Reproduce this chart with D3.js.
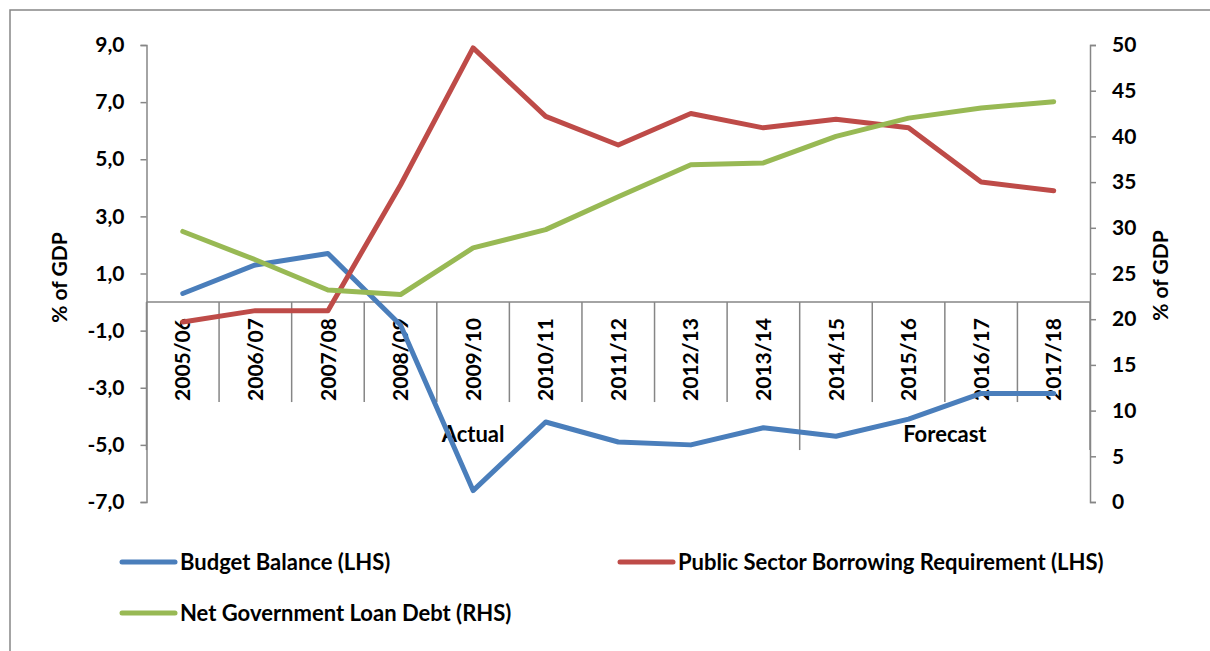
<!DOCTYPE html>
<html>
<head>
<meta charset="utf-8">
<script src="https://cdn.jsdelivr.net/npm/d3@7"></script>
<style>
  body { margin: 0; background: #fff; }
  svg { display: block; }
  text { font-family: Lato, "Open Sans", sans-serif; font-weight: 700; fill: #000; }
</style>
</head>
<body>
<svg id="chart" width="1210" height="651"></svg>
<script>
// Fiscal years on the category axis
const categories = ["2005/06", "2006/07", "2007/08", "2008/09", "2009/10", "2010/11", "2011/12",
                    "2012/13", "2013/14", "2014/15", "2015/16", "2016/17", "2017/18"];

// % of GDP, left-hand scale
const budgetBalance = [0.3, 1.3, 1.7, -0.8, -6.6, -4.2, -4.9, -5.0, -4.4, -4.7, -4.1, -3.2, -3.2];
const borrowingRequirement = [-0.7, -0.3, -0.3, 4.1, 8.9, 6.5, 5.5, 6.6, 6.1, 6.4, 6.1, 4.2, 3.9];

// % of GDP, right-hand scale
const netLoanDebt = [29.6, 26.5, 23.2, 22.7, 27.8, 29.8, 33.4, 36.9, 37.1, 40.0, 42.0, 43.1, 43.8];

const leftTicks = [-7, -5, -3, -1, 1, 3, 5, 7, 9];
const rightTicks = [0, 5, 10, 15, 20, 25, 30, 35, 40, 45, 50];

// Outer grouping of the categories
const periodNames = ["Actual", "Forecast"];
const periodStart = [0, 9];
const periodEnd = [8, 12];

const seriesNames = ["Budget Balance (LHS)", "Public Sector Borrowing Requirement (LHS)", "Net Government Loan Debt (RHS)"];
const seriesColors = ["#4a7ebb", "#be4b48", "#98b954"];

const svg = d3.select("#chart");
const axisColor = "#868686";

const plot = { left: 146.5, right: 1090, top: 45, bottom: 502 };

const x = d3.scaleBand().domain(categories).range([plot.left, plot.right]).padding(0);
const yL = d3.scaleLinear().domain([-7, 9]).range([plot.bottom, plot.top]);
const yR = d3.scaleLinear().domain([0, 50]).range([plot.bottom, plot.top]);

const locale = d3.formatLocale({ decimal: ",", thousands: ".", grouping: [3], currency: ["", ""], minus: "-" });
const fmtLeft = locale.format(".1f");

// Chart frame
svg.append("rect")
  .attr("x", 10).attr("y", 10).attr("width", 1300).attr("height", 800)
  .attr("fill", "none").attr("stroke", axisColor).attr("stroke-width", 1.5);

// Left axis
const leftAxis = d3.axisLeft(yL).tickValues(leftTicks).tickFormat(fmtLeft).tickSize(6).tickPadding(16);
const gL = svg.append("g").attr("transform", `translate(${plot.left},0)`).call(leftAxis);

// Right axis
const rightAxis = d3.axisRight(yR).tickValues(rightTicks).tickFormat(d3.format("d")).tickSize(6).tickPadding(16);
const gR = svg.append("g").attr("transform", `translate(${plot.right},0)`).call(rightAxis);

[gL, gR].forEach(g => {
  g.select(".domain").attr("stroke", axisColor).attr("stroke-width", 1.5);
  g.selectAll(".tick line").attr("stroke", axisColor).attr("stroke-width", 1.5);
  g.selectAll(".tick text").attr("font-size", 21).attr("font-family", null).attr("fill", "#000");
});

// Category axis sits at zero on the left scale
const y0 = yL(0);
svg.append("line")
  .attr("x1", plot.left).attr("x2", plot.right).attr("y1", y0).attr("y2", y0)
  .attr("stroke", axisColor).attr("stroke-width", 1.5);

const boundaries = d3.range(categories.length + 1);
svg.append("g").selectAll("line").data(boundaries).join("line")
  .attr("x1", i => plot.left + i * x.step())
  .attr("x2", i => plot.left + i * x.step())
  .attr("y1", y0)
  .attr("y2", i => periodStart.includes(i) || i === categories.length ? y0 + 148 : y0 + 100)
  .attr("stroke", axisColor).attr("stroke-width", 1.5);

svg.append("g").selectAll("text").data(categories).join("text")
  .attr("transform", d => `translate(${x(d) + x.bandwidth() / 2},${y0 + 16}) rotate(-90)`)
  .attr("text-anchor", "end")
  .attr("dy", "0.36em")
  .attr("font-size", 21)
  .text(d => d);

svg.append("g").selectAll("text").data(periodNames).join("text")
  .attr("x", (d, i) => (x(categories[periodStart[i]]) + x(categories[periodEnd[i]]) + x.bandwidth()) / 2)
  .attr("y", 442)
  .attr("text-anchor", "middle")
  .attr("font-size", 22)
  .text(d => d);

// Axis titles
svg.append("text")
  .attr("transform", `translate(67,${(plot.top + plot.bottom) / 2 + 4}) rotate(-90)`)
  .attr("text-anchor", "middle").attr("font-size", 21).text("% of GDP");
svg.append("text")
  .attr("transform", `translate(1168,${(plot.top + plot.bottom) / 2 + 2}) rotate(-90)`)
  .attr("text-anchor", "middle").attr("font-size", 21).text("% of GDP");

// Series lines
const lineL = d3.line().x((d, i) => x(categories[i]) + x.bandwidth() / 2).y(d => yL(d));
const lineR = d3.line().x((d, i) => x(categories[i]) + x.bandwidth() / 2).y(d => yR(d));

const series = [
  { values: budgetBalance, line: lineL, color: seriesColors[0] },
  { values: borrowingRequirement, line: lineL, color: seriesColors[1] },
  { values: netLoanDebt, line: lineR, color: seriesColors[2] }
];

svg.append("g").selectAll("path").data(series).join("path")
  .attr("d", s => s.line(s.values))
  .attr("fill", "none")
  .attr("stroke", s => s.color)
  .attr("stroke-width", 5)
  .attr("stroke-linejoin", "round")
  .attr("stroke-linecap", "round");

// Legend
const legendPos = [[122, 562], [620, 562], [122, 613]];
const legend = svg.append("g").selectAll("g").data(seriesNames).join("g")
  .attr("transform", (d, i) => `translate(${legendPos[i][0]},${legendPos[i][1]})`);
legend.append("line")
  .attr("x1", 0).attr("x2", 53).attr("y1", 0).attr("y2", 0)
  .attr("stroke", (d, i) => seriesColors[i]).attr("stroke-width", 5).attr("stroke-linecap", "round");
legend.append("text")
  .attr("x", 58).attr("y", 0).attr("dy", "0.36em")
  .attr("font-size", 22)
  .text(d => d);
</script>
</body>
</html>
